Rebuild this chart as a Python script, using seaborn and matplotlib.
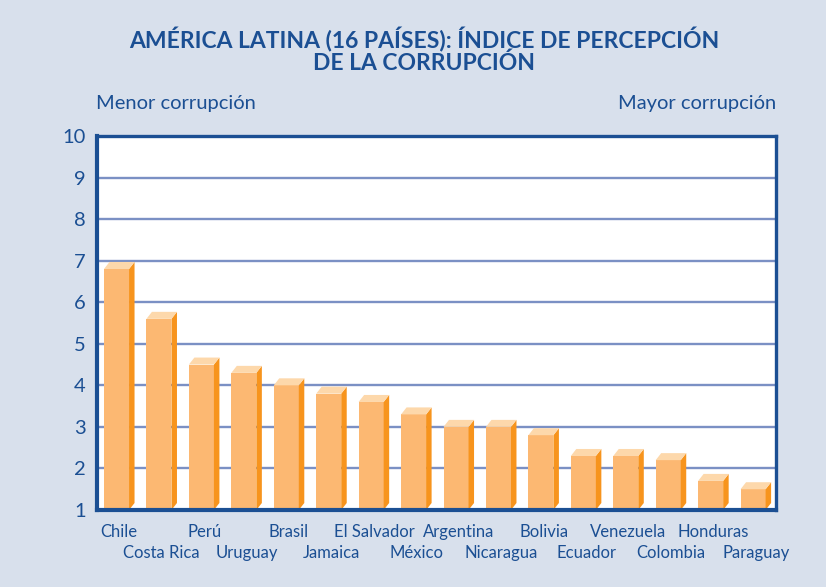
import matplotlib
matplotlib.use("Agg")
import matplotlib.pyplot as plt
from matplotlib.patches import Polygon
from matplotlib.transforms import ScaledTranslation
import pandas as pd
import seaborn as sns

# Índice de percepción de la corrupción, 16 países de América Latina
paises = ["Chile", "Costa Rica", "Perú", "Uruguay", "Brasil", "Jamaica",
          "El Salvador", "México", "Argentina", "Nicaragua", "Bolivia",
          "Ecuador", "Venezuela", "Colombia", "Honduras", "Paraguay"]
indice = [6.8, 5.6, 4.5, 4.3, 4.0, 3.8, 3.6, 3.3, 3.0, 3.0, 2.8,
          2.3, 2.3, 2.2, 1.7, 1.5]
y_ticks = [1, 2, 3, 4, 5, 6, 7, 8, 9, 10]

titulo_1 = "AMÉRICA LATINA (16 PAÍSES): ÍNDICE DE PERCEPCIÓN"
titulo_2 = "DE LA CORRUPCIÓN"
nota_izq = "Menor corrupción"
nota_der = "Mayor corrupción"

# Colours
BG = "#d8e0ec"
BLUE = "#1b4f93"
GRID = "#7b90c4"
FRONT = "#fcb872"
TOP = "#fdd8ab"
SIDE = "#f7941d"

sns.set_theme(style="white")
plt.rcParams["font.family"] = ["Lato", "DejaVu Sans"]

W, H = 826, 587
fig = plt.figure(figsize=(W / 100, H / 100), dpi=100, facecolor=BG)
left, right, top, bottom = 97, 776, 136, 510
ax = fig.add_axes([left / W, 1 - bottom / H, (right - left) / W, (bottom - top) / H])
ax.set_facecolor("white")

df = pd.DataFrame({"pais": paises, "indice": indice})
sns.barplot(data=df, x="pais", y="indice", color=FRONT, saturation=1,
            width=0.59, ax=ax, zorder=3, linewidth=0)

ax.set_xlim(-0.46, 15.54)
ax.set_ylim(1, 10)
ax.set_xlabel("")
ax.set_ylabel("")

# Gridlines and frame
ax.set_axisbelow(True)
ax.set_yticks(y_ticks)
ax.set_yticklabels([str(t) for t in y_ticks])
ax.yaxis.grid(True, color=GRID, linewidth=1.7, zorder=0)
ax.xaxis.grid(False)
for s in ax.spines.values():
    s.set_visible(True)
    s.set_color(BLUE)
    s.set_linewidth(2.4)
    s.set_zorder(5)
ax.spines["left"].set_linewidth(3)
ax.spines["bottom"].set_linewidth(3)

ax.tick_params(axis="y", length=0, pad=8, labelsize=14.5, labelcolor=BLUE)
ax.tick_params(axis="x", length=0, labelsize=12, labelcolor=BLUE)

# Category labels alternate between two rows
ax.set_xticks(range(len(paises)))
ax.set_xticklabels(paises)
for i, tick in enumerate(ax.xaxis.get_major_ticks()):
    tick.set_pad(10 if i % 2 == 0 else 25.5)
shift = ScaledTranslation(2.75 / 100, 0, fig.dpi_scale_trans)
for lbl in ax.get_xticklabels():
    lbl.set_transform(lbl.get_transform() + shift)

# Depth faces (top and right side) for each bar, offset in pixels
fig.canvas.draw()
dx, dy = 5.5, 7.0
inv = ax.transData.inverted()
for p in list(ax.patches):
    x0, w, h = p.get_x(), p.get_width(), p.get_height()
    (xl, yb), (xr, yt) = ax.transData.transform([(x0, 1), (x0 + w, h)])
    side = inv.transform([(xr, yb), (xr + dx, yb + dy), (xr + dx, yt + dy), (xr, yt)])
    topf = inv.transform([(xl, yt), (xl + dx, yt + dy), (xr + dx, yt + dy), (xr, yt)])
    ax.add_patch(Polygon(side, closed=True, facecolor=SIDE, edgecolor="none", zorder=3))
    ax.add_patch(Polygon(topf, closed=True, facecolor=TOP, edgecolor="none", zorder=3))

# Titles and notes
fig.text(424 / W, 1 - 40 / H, titulo_1, ha="center", va="center",
         fontsize=16.5, fontweight="bold", color=BLUE)
fig.text(424 / W, 1 - 63 / H, titulo_2, ha="center", va="center",
         fontsize=16.5, fontweight="bold", color=BLUE)
fig.text(96 / W, 1 - 104 / H, nota_izq, ha="left", va="center",
         fontsize=14.5, color=BLUE)
fig.text(776 / W, 1 - 104 / H, nota_der, ha="right", va="center",
         fontsize=14.5, color=BLUE)

fig.savefig("out.png", dpi=100, facecolor=BG)
